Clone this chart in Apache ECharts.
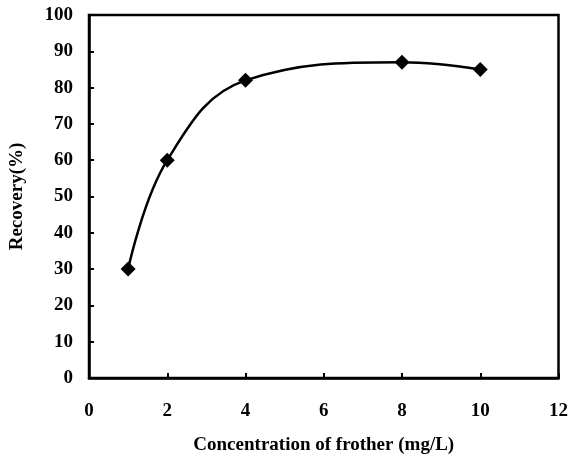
<!DOCTYPE html>
<html><head><meta charset="utf-8">
<script src="https://cdn.jsdelivr.net/npm/echarts@6/dist/echarts.min.js"></script>
<style>html,body{margin:0;padding:0;background:#fff}#c{width:571px;height:463px}</style>
</head><body><div id="c"></div>
<script>
const xValues = [1, 2, 4, 8, 10];
const recovery = [30, 60, 82, 87, 85];
const xTitle = 'Concentration of frother (mg/L)';
const yTitle = 'Recovery(%)';

const font = '"Liberation Serif", "Times New Roman", serif';
const chart = echarts.init(document.getElementById('c'));
chart.setOption({
  animation: false,
  backgroundColor: '#fff',
  grid: {left: 86, top: 15, right: 11, bottom: 85, show: true, borderColor: '#000', borderWidth: 2.5, backgroundColor: 'transparent'},
  xAxis: {
    type: 'value', min: 0, max: 12, interval: 2,
    name: xTitle, nameLocation: 'middle', nameGap: 58,
    nameTextStyle: {fontFamily: font, fontWeight: 'bold', fontSize: 19, color: '#000'},
    axisLine: {lineStyle: {color: '#000', width: 2.5}},
    axisTick: {inside: true, length: 5, lineStyle: {color: '#000', width: 2}},
    axisLabel: {fontFamily: font, fontWeight: 'bold', fontSize: 19, color: '#000', margin: 24},
    splitLine: {show: false}
  },
  yAxis: {
    type: 'value', min: 0, max: 100, interval: 10,
    name: yTitle, nameLocation: 'middle', nameGap: 62,
    nameTextStyle: {fontFamily: font, fontWeight: 'bold', fontSize: 19, color: '#000'},
    axisLine: {lineStyle: {color: '#000', width: 2.5}},
    axisTick: {inside: true, length: 5, lineStyle: {color: '#000', width: 2}},
    axisLabel: {fontFamily: font, fontWeight: 'bold', fontSize: 19, color: '#000', margin: 16},
    splitLine: {show: false}
  },
  series: [{
    type: 'line',
    data: xValues.map((x, i) => [x, recovery[i]]),
    smooth: 0.4,
    symbol: 'diamond', symbolSize: 15,
    itemStyle: {color: '#000'},
    lineStyle: {color: '#000', width: 2.5}
  }]
});
</script></body></html>
